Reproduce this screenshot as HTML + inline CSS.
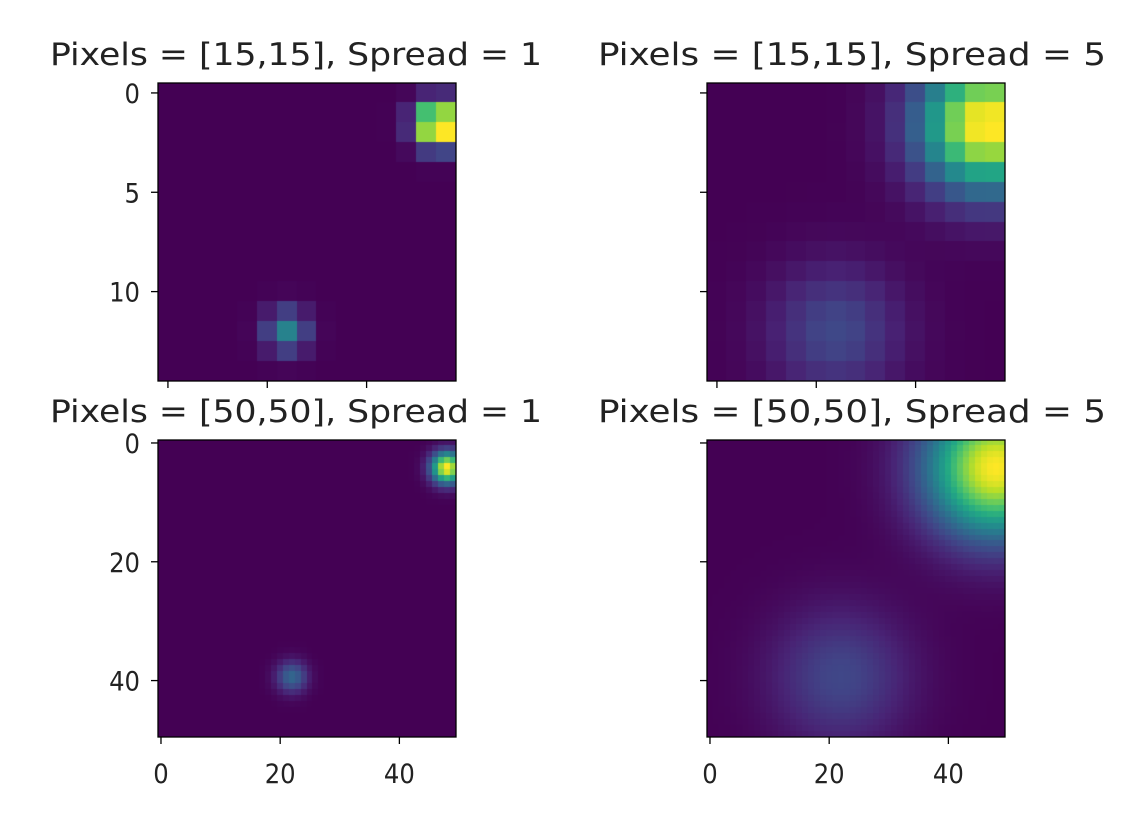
<!DOCTYPE html>
<html><head><meta charset="utf-8">
<style>
html,body{margin:0;padding:0;background:#fff;}
#fig{position:relative;width:1148px;height:818px;overflow:hidden;}
svg{position:absolute;left:0;top:0;}
canvas{position:absolute;}
</style></head>
<body>
<div id="fig">
<canvas id="c00" width="298" height="298" style="left:158px;top:83px;width:298px;height:298px"></canvas>
<canvas id="c01" width="298" height="298" style="left:707px;top:83px;width:298px;height:298px"></canvas>
<canvas id="c10" width="298" height="297" style="left:158px;top:440px;width:298px;height:297px"></canvas>
<canvas id="c11" width="298" height="297" style="left:707px;top:440px;width:298px;height:297px"></canvas>
<svg id="ov" width="1148" height="818"></svg>
</div>
<script>
// data
const gridSizes = [15, 50];
const blobX15 = [13.6, 6.0];     // blob centres in cell units, 15-grid
const blobY15 = [1.6, 12.0];
const blobX50 = [48.0, 22.0];    // blob centres in cell units, 50-grid
const blobY50 = [4.3, 39.5];
const blobAmpSpread1 = [1.0, 0.33];
const blobAmpSpread5 = [1.0, 0.21];
const sigma15 = [0.75, 2.3];     // per spread (1, 5), cell units
const sigma50 = [1.8, 8.0];
const yTicks15 = [0, 5, 10];
const yTicks50 = [0, 20, 40];
const xTicks50 = [0, 20, 40];
const titles = ["Pixels = [15,15], Spread = 1","Pixels = [15,15], Spread = 5","Pixels = [50,50], Spread = 1","Pixels = [50,50], Spread = 5"];

const vir = ["#440154","#482475","#414487","#355f8d","#2a788e","#21918c","#22a884","#44bf70","#7ad151","#bddf26","#fde725"];
function hex(h){return [parseInt(h.slice(1,3),16),parseInt(h.slice(3,5),16),parseInt(h.slice(5,7),16)];}
const virRGB = vir.map(hex);
function cmap(v){v=Math.max(0,Math.min(1,v));const t=v*10;const i=Math.min(9,Math.floor(t));const f=t-i;
 const a=virRGB[i],b=virRGB[i+1];return `rgb(${Math.round(a[0]+(b[0]-a[0])*f)},${Math.round(a[1]+(b[1]-a[1])*f)},${Math.round(a[2]+(b[2]-a[2])*f)})`;}

function field(N, si){
  const s = N===15 ? sigma15[si] : sigma50[si];
  const bx = N===15 ? blobX15 : blobX50, by = N===15 ? blobY15 : blobY50;
  const amp = si===0?blobAmpSpread1:blobAmpSpread5;
  const g=[];let mx=0;
  for(let r=0;r<N;r++){const row=[];for(let c=0;c<N;c++){
    let v=0;
    for(let k=0;k<bx.length;k++){const dx=c-bx[k],dy=r-by[k];v+=amp[k]*Math.exp(-(dx*dx+dy*dy)/(2*s*s));}
    row.push(v);if(v>mx)mx=v;}g.push(row);}
  return g.map(r=>r.map(v=>v/mx));
}
function draw(id,N,si){
  const cv=document.getElementById(id),ctx=cv.getContext('2d');
  const g=field(N,si);const cw=cv.width/N,ch=cv.height/N;
  for(let r=0;r<N;r++)for(let c=0;c<N;c++){ctx.fillStyle=cmap(g[r][c]);
    ctx.fillRect(Math.floor(c*cw),Math.floor(r*ch),Math.ceil(cw)+1,Math.ceil(ch)+1);}
}
draw('c00',gridSizes[0],0);draw('c01',gridSizes[0],1);draw('c10',gridSizes[1],0);draw('c11',gridSizes[1],1);

const FONT='"DejaVu Sans Condensed", "DejaVu Sans", sans-serif';
const NS="http://www.w3.org/2000/svg";const ov=document.getElementById('ov');
function el(t,a){const e=document.createElementNS(NS,t);for(const k in a)e.setAttribute(k,a[k]);ov.appendChild(e);return e;}
const axes=[{l:158,t:83,w:298,h:298,N:15},{l:707,t:83,w:298,h:298,N:15},{l:158,t:440,w:298,h:297,N:50},{l:707,t:440,w:298,h:297,N:50}];
const titleX=[50,598,50,598], titleW=[492,508,492,508], titleY=[65,65,422,422];
axes.forEach((a,i)=>{
  const fr=el('rect',{x:a.l,y:a.t,width:a.w,height:a.h,fill:'none',stroke:'#000','stroke-width':1.3});
  
  
  const xs=v=>a.l+(v+0.5)*a.w/a.N, ys=v=>a.t+(v+0.5)*a.h/a.N;
  const yt=a.N===15?yTicks15:yTicks50;
  yt.forEach(v=>{const y=ys(v);
    const tk=el('line',{x1:a.l-7,x2:a.l,y1:y,y2:y,stroke:'#000','stroke-width':1.3});
    
    
    if(i%2===0){const tx=el('text',{x:a.l-18,y:y+10,'text-anchor':'end','font-family':FONT,'font-size':27,fill:'#222'});
      tx.textContent=v;
      
      }
  });
  const xt=a.N===15?yTicks15:xTicks50;
  xt.forEach(v=>{const x=xs(v);
    const tk=el('line',{x1:x,x2:x,y1:a.t+a.h,y2:a.t+a.h+7,stroke:'#000','stroke-width':1.3});
    
    
    if(a.N===50){const tx=el('text',{x:x,y:a.t+a.h+46,'text-anchor':'middle','font-family':FONT,'font-size':27,fill:'#222'});
      tx.textContent=v;
      
      }
  });
  const t=el('text',{x:titleX[i],y:titleY[i],textLength:titleW[i],lengthAdjust:'spacingAndGlyphs','font-family':FONT,'font-size':31,fill:'#222'});
  t.textContent=titles[i];
  
  
});
</script>
</body></html>
